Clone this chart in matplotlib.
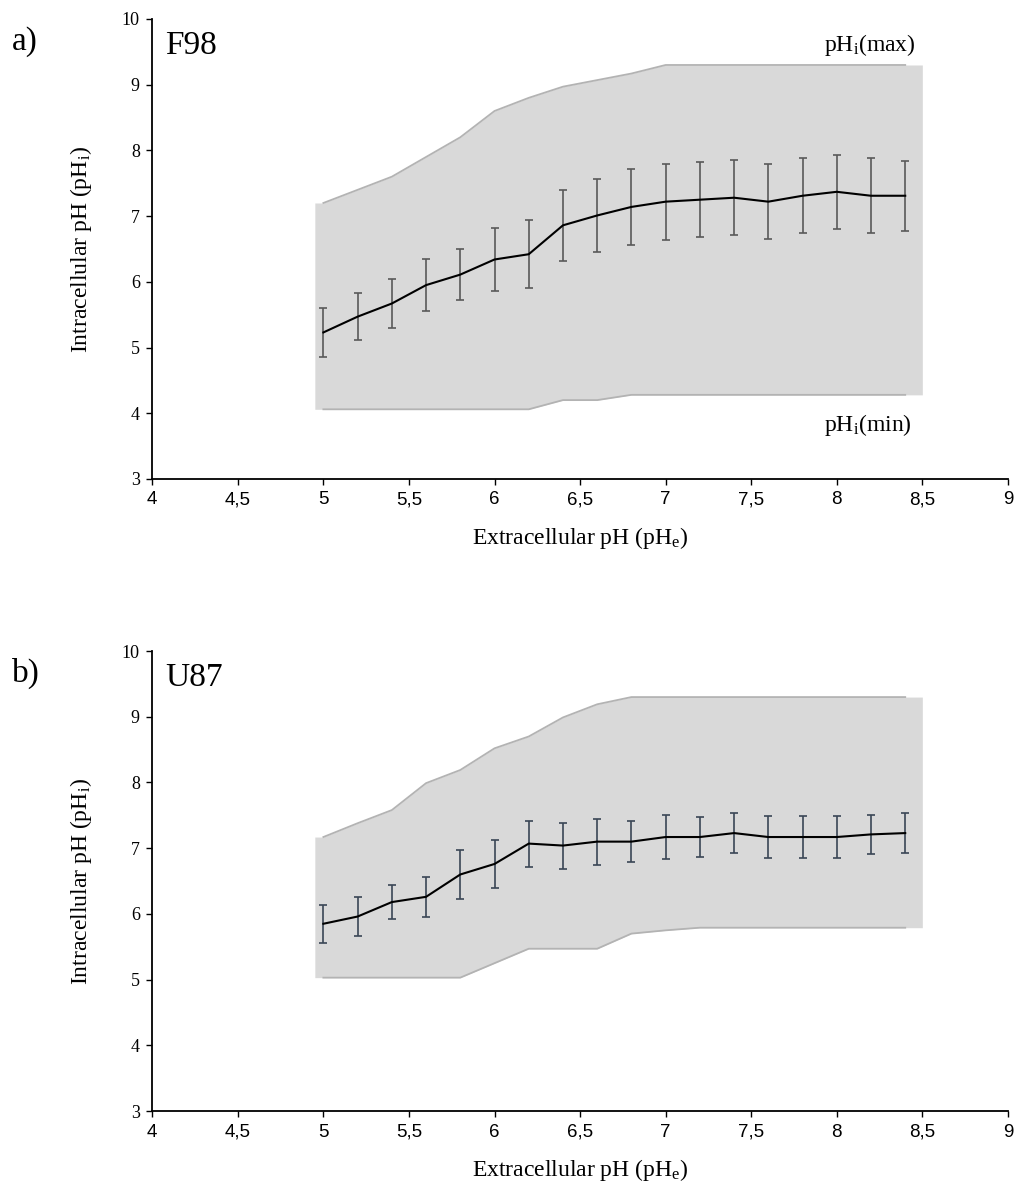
import numpy as np
import matplotlib
matplotlib.use('Agg')
import matplotlib.pyplot as plt

plt.rcParams['font.family'] = ['Liberation Serif', 'DejaVu Serif']
plt.rcParams['mathtext.fontset'] = 'custom'
plt.rcParams['mathtext.rm'] = 'Liberation Serif'
plt.rcParams['mathtext.it'] = 'Liberation Serif:italic'

# Extracellular pH values
phe = [5.0, 5.2, 5.4, 5.6, 5.8, 6.0, 6.2, 6.4, 6.6, 6.8,
       7.0, 7.2, 7.4, 7.6, 7.8, 8.0, 8.2, 8.4]
fill_edges = (4.95, 8.5)

# F98
f98_mean = [5.23, 5.47, 5.67, 5.95, 6.11, 6.34, 6.42, 6.86, 7.01, 7.14,
            7.22, 7.25, 7.28, 7.22, 7.31, 7.37, 7.31, 7.31]
f98_err = [0.37, 0.36, 0.37, 0.39, 0.39, 0.48, 0.52, 0.54, 0.55, 0.58,
           0.58, 0.57, 0.57, 0.57, 0.57, 0.56, 0.57, 0.53]
f98_max = [7.2, 7.4, 7.6, 7.9, 8.2, 8.6, 8.8, 8.97, 9.07, 9.17,
           9.3, 9.3, 9.3, 9.3, 9.3, 9.3, 9.3, 9.3]
f98_min = [4.06, 4.06, 4.06, 4.06, 4.06, 4.06, 4.06, 4.2, 4.2, 4.28,
           4.28, 4.28, 4.28, 4.28, 4.28, 4.28, 4.28, 4.28]

# U87
u87_mean = [5.85, 5.96, 6.18, 6.26, 6.60, 6.76, 7.07, 7.04, 7.10, 7.10,
            7.17, 7.17, 7.23, 7.17, 7.17, 7.17, 7.21, 7.23]
u87_err = [0.29, 0.29, 0.26, 0.30, 0.37, 0.36, 0.35, 0.35, 0.35, 0.31,
           0.33, 0.31, 0.30, 0.32, 0.32, 0.32, 0.30, 0.30]
u87_max = [7.17, 7.38, 7.58, 7.99, 8.19, 8.52, 8.70, 8.99, 9.19, 9.30,
           9.3, 9.3, 9.3, 9.3, 9.3, 9.3, 9.3, 9.3]
u87_min = [5.03, 5.03, 5.03, 5.03, 5.03, 5.25, 5.47, 5.47, 5.47, 5.70,
           5.75, 5.79, 5.79, 5.79, 5.79, 5.79, 5.79, 5.79]

xticks = [4, 4.5, 5, 5.5, 6, 6.5, 7, 7.5, 8, 8.5, 9]
xticklabels = ['4', '4,5', '5', '5,5', '6', '6,5', '7', '7,5', '8', '8,5', '9']

fig = plt.figure(figsize=(10.15, 11.87), dpi=100)
ax1 = fig.add_axes([0.150, 0.5965, 0.843, 0.3875])
ax2 = fig.add_axes([0.150, 0.0640, 0.843, 0.3875])


def panel(ax, mean, err, lo, hi, name, errcolor):
    # shaded band between min and max, with straight vertical ends
    xf = [fill_edges[0]] + phe + [fill_edges[1]]
    lof = [lo[0]] + lo + [lo[-1]]
    hif = [hi[0]] + hi + [hi[-1]]
    ax.fill_between(xf, lof, hif, color='#d9d9d9', lw=0, zorder=1)
    ax.plot(phe, hi, color='#b3b3b3', lw=1.3, zorder=2)
    ax.plot(phe, lo, color='#b3b3b3', lw=1.3, zorder=2)
    ax.errorbar(phe, mean, yerr=err, fmt='none', ecolor=errcolor,
                elinewidth=1.2, capsize=2.6, capthick=1.2, zorder=3)
    ax.plot(phe, mean, color='black', lw=1.5, zorder=4)

    ax.set_xlim(4, 9)
    ax.set_ylim(3, 10)
    ax.set_xticks(xticks)
    ax.set_xticklabels(xticklabels, family=['Liberation Sans', 'DejaVu Sans'])
    ax.set_yticks(range(3, 11))
    for s in ['top', 'right']:
        ax.spines[s].set_visible(False)
    for s in ['left', 'bottom']:
        ax.spines[s].set_linewidth(1.3)
    ax.tick_params(axis='x', labelsize=13.5, length=4, width=1.0, pad=5)
    ax.tick_params(axis='y', labelsize=13, length=4, width=1.0, pad=5)
    ax.set_xlabel(r'Extracellular pH (pH$_\mathregular{e}$)', fontsize=17, labelpad=12)
    ax.set_ylabel(r'Intracellular pH (pH$_\mathregular{i}$)', fontsize=17, labelpad=20)
    ax.text(0.015, 0.975, name, transform=ax.transAxes, fontsize=24,
            va='top', ha='left')


panel(ax1, f98_mean, f98_err, f98_min, f98_max, 'F98', '#595959')
panel(ax2, u87_mean, u87_err, u87_min, u87_max, 'U87', '#3a4656')

ax1.text(8.46, 9.6, r'pH$_\mathregular{i}$(max)', fontsize=17, ha='right', va='center')
ax1.text(8.44, 3.82, r'pH$_\mathregular{i}$(min)', fontsize=17, ha='right', va='center')

fig.text(0.012, 0.978, 'a)', fontsize=24, va='top', ha='left')
fig.text(0.012, 0.446, 'b)', fontsize=24, va='top', ha='left')

fig.savefig('out.png', dpi=100)
